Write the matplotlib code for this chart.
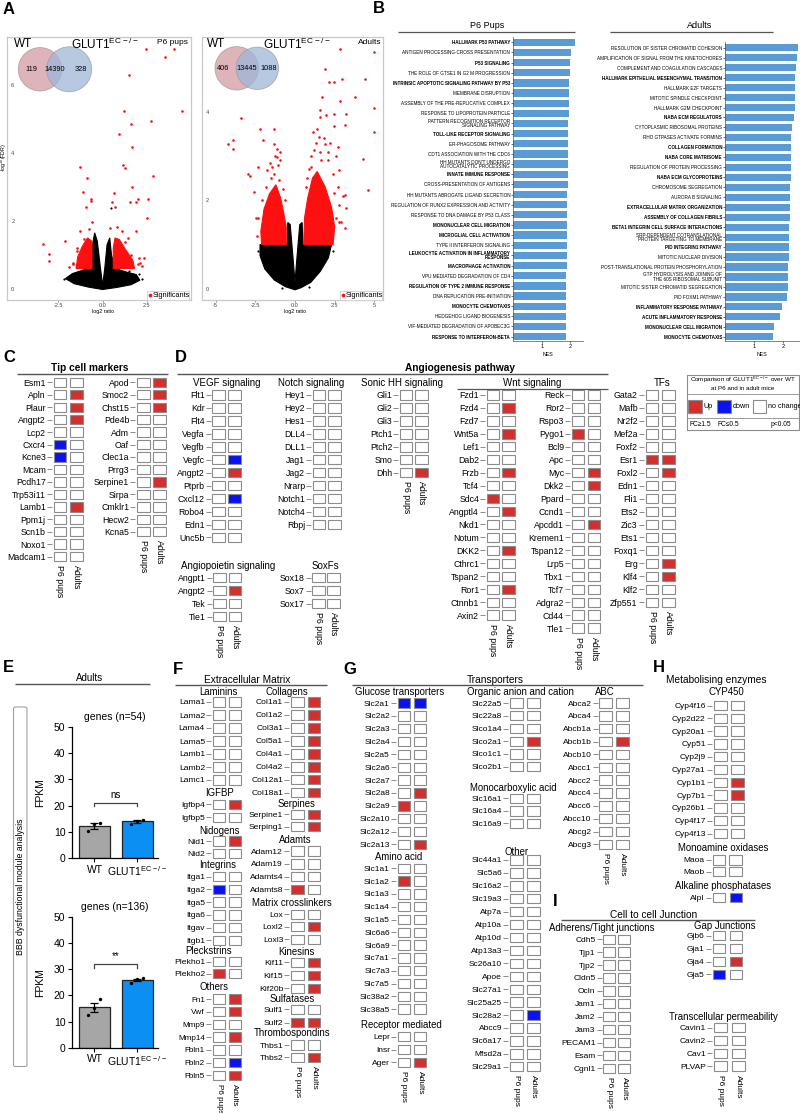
import numpy as np
import matplotlib.pyplot as plt
from matplotlib.patches import Rectangle, Circle, Polygon, FancyBboxPatch

plt.rcParams['font.family'] = ['Liberation Sans', 'DejaVu Sans']
plt.rcParams['mathtext.default'] = 'regular'

# ---------------- data ----------------
# A: venn counts (WT only, shared, KO only)
venn_p6 = [119, 14390, 328]
venn_ad = [406, 13445, 1088]

# A: volcano, dense cores read as outlines (log2 ratio, -log10 FDR)
p6_black = [(0, -0.02), (-0.8, 0.05), (-1.6, 0.15), (-2.1, 0.3), (-1.7, 0.45), (-1.1, 0.55),
            (-0.75, 0.8), (-0.6, 1.2), (-0.45, 1.65), (-0.3, 1.4), (-0.12, 0.6), (0, 0.1),
            (0.12, 0.6), (0.25, 1.3), (0.4, 1.5), (0.5, 1.0), (0.7, 0.6), (1.3, 0.5),
            (1.9, 0.42), (2.1, 0.25), (1.6, 0.12), (0.8, 0.04)]
p6_red_l = [(-0.6, 0.6), (-1.5, 0.6), (-1.4, 0.95), (-1.15, 1.25), (-0.85, 1.5), (-0.6, 1.4)]
p6_red_r = [(0.6, 0.6), (1.8, 0.6), (1.7, 0.85), (1.3, 1.15), (0.95, 1.45), (0.7, 1.5), (0.6, 1.2)]
p6_red_x = [2.43, 4.03, 3.52, 1.50, 4.48, 1.21, 2.71, 1.59, 0.94, 1.66, -1.28, 1.14, 1.29, 2.87,
            -0.90, 1.63, -1.09, 0.66, -0.68, -0.68, 0.51, 2.01, 1.86, 1.56, -0.95, 0.70, 2.54,
            2.48, -3.35, -3.02, -3.05, -2.13, -1.28, -0.62, 0.43, 2.33, 2.03, 1.88, 1.11,
            -1.7, -1.9, -1.45, 2.1, 2.2, -1.7, -1.45, -1.05, 1.6, 1.25, 2.0, 0.8, -0.75, 1.45]
p6_red_y = [7.06, 7.06, 6.84, 6.29, 5.25, 5.25, 4.96, 4.86, 4.56, 4.17, 3.58, 3.64, 3.56, 3.33,
            3.26, 2.99, 2.84, 2.81, 2.65, 2.58, 2.56, 2.65, 2.57, 2.55, 2.40, 2.42, 2.66,
            2.10, 1.33, 1.03, 0.82, 1.41, 1.69, 1.97, 1.78, 0.91, 0.91, 1.69, 1.70,
            0.75, 0.65, 1.2, 0.75, 0.68, 0.72, 1.1, 1.48, 1.0, 1.38, 0.72, 1.82, 1.75, 1.5]
p6_blk_x = [0.47, -1.9, -2.2, 2.2, 2.05, -1.3, 1.5]
p6_blk_y = [2.37, 0.35, 0.28, 0.3, 0.45, 0.5, 0.52]

ad_black = [(0, -0.02), (-0.6, 0.05), (-1.3, 0.2), (-1.9, 0.45), (-2.2, 0.75), (-2.2, 1.0),
            (-0.5, 1.0), (-0.45, 1.5), (-0.3, 1.45), (-0.1, 0.6), (0, 0.15), (0.1, 0.6),
            (0.3, 1.45), (0.45, 1.5), (0.5, 1.0), (2.3, 1.0), (2.1, 0.7), (1.6, 0.4),
            (1.0, 0.15), (0.4, 0.03)]
ad_red_l = [(-0.55, 1.0), (-2.1, 1.0), (-2.15, 1.3), (-1.95, 1.8), (-1.6, 2.15), (-1.2, 2.35),
            (-0.9, 2.05), (-0.7, 1.7), (-0.55, 1.4)]
ad_red_r = [(0.55, 1.0), (2.4, 1.0), (2.5, 1.4), (2.3, 1.85), (1.9, 2.3), (1.4, 2.65),
            (1.1, 2.5), (0.8, 2.05), (0.6, 1.6)]
ad_red_x = [-3.42, -3.92, -4.19, -3.92, -2.93, -2.83, -2.56, -2.20, -1.30, -2.0, -1.32, 2.86,
            5.0, 1.89, 4.39, 2.97, 2.15, 2.46, 3.75, 1.73, 2.83, 4.96, 1.56, 3.23, 2.45, 1.97,
            1.55, 3.12, 2.44, 4.96, 4.30, 2.75, 4.57, 3.12, 3.23, 3.12, 2.22, 2.46, 1.63, 1.21,
            2.05, 1.53, 0.99, 2.71, 1.87, -1.15, -1.57, -0.94, -1.78, -2.30, -2.09, -2.45, 2.8,
            -1.3, -1.1, -1.5, -1.25, -1.0, -1.8, -2.1, -2.3, -2.4, -1.45, -1.15, -0.95,
            1.0, 1.3, 1.6, 2.1, 2.4, 2.7, 2.8, 2.6, 1.8, 1.4, 2.2, 0.9, 1.15, 2.55, 3.0, 2.9,
            -0.75, -0.65, 0.7, 0.75]
ad_red_y = [3.85, 3.36, 3.27, 3.15, 2.60, 2.54, 2.18, 3.60, 3.60, 3.37, 3.27, 5.41,
            5.34, 4.96, 4.74, 4.73, 4.66, 4.66, 4.33, 4.33, 4.23, 4.08, 4.04, 3.94, 3.94, 3.93,
            3.88, 3.70, 3.67, 3.53, 2.94, 2.68, 2.23, 2.12, 1.83, 1.38, 1.21, 2.16, 2.90, 3.13,
            3.09, 3.43, 2.75, 3.20, 3.28, 2.98, 2.83, 3.09, 2.68, 2.75, 1.03, 1.6, 1.5,
            2.6, 2.8, 2.5, 3.0, 2.45, 2.3, 2.0, 1.6, 1.2, 2.75, 3.15, 2.9,
            3.0, 3.3, 3.1, 2.9, 2.6, 2.3, 1.9, 1.6, 3.4, 3.6, 3.3, 2.7, 3.55, 3.0, 2.1, 1.5,
            2.25, 2.0, 2.3, 2.5]
ad_blk_x = [-1.88, -2.3, 2.4, -0.8, 0.9]
ad_blk_y = [0.55, 0.85, 0.85, 0.02, 0.05]

# B: GSEA terms and NES
p6_terms = ["HALLMARK P53 PATHWAY", "ANTIGEN PROCESSING-CROSS PRESENTATION", "P53 SIGNALING",
            "THE ROLE OF GTSE1 IN G2 M PROGRESSION", "INTRINSIC APOPTOTIC SIGNALING PATHWAY BY P53",
            "MEMBRANE DISRUPTION", "ASSEMBLY OF THE PRE-REPLICATIVE COMPLEX",
            "RESPONSE TO LIPOPROTEIN PARTICLE", "PATTERN RECOGNITION RECEPTOR\nSIGNALING PATHWAY",
            "TOLL-LIKE RECEPTOR SIGNALING", "ER-PHAGOSOME PATHWAY", "CDT1 ASSOCIATION WITH THE CDC6",
            "HH MUTANTS DON'T UNDERGO\nAUTOCATALYTIC PROCESSING", "INNATE IMMUNE RESPONSE",
            "CROSS-PRESENTATION OF ANTIGENS", "HH MUTANTS ABROGATE LIGAND SECRETION",
            "REGULATION OF RUNX2 EXPRESSION AND ACTIVITY", "RESPONSE TO DNA DAMAGE BY P53 CLASS",
            "MONONUCLEAR CELL MIGRATION", "MICROGLIAL CELL ACTIVATION", "TYPE II INTERFERON SIGNALING",
            "LEUKOCYTE ACTIVATION IN INFLAMMATORY\nRESPONSE", "MACROPHAGE ACTIVATION",
            "VPU MEDIATED DEGRADATION OF CD4", "REGULATION OF TYPE 2 IMMUNE RESPONSE",
            "DNA REPLICATION PRE-INITIATION", "MONOCYTE CHEMOTAXIS", "HEDGEHOG LIGAND BIOGENESIS",
            "VIF-MEDIATED DEGRADATION OF APOBEC3G", "RESPONSE TO INTERFERON-BETA"]
p6_nes = [2.19, 2.04, 2.00, 1.99, 1.97, 1.96, 1.95, 1.95, 1.94, 1.94, 1.93, 1.93, 1.92, 1.92, 1.92,
          1.91, 1.91, 1.90, 1.89, 1.89, 1.88, 1.88, 1.88, 1.87, 1.87, 1.87, 1.86, 1.86, 1.85, 1.85]
p6_bold = [0, 2, 4, 9, 13, 18, 19, 21, 22, 24, 26, 29]

ad_terms = ["RESOLUTION OF SISTER CHROMATID COHESION", "AMPLIFICATION OF SIGNAL FROM THE KINETOCHORES",
            "COMPLEMENT AND COAGULATION CASCADES", "HALLMARK EPITHELIAL MESENCHYMAL TRANSITION",
            "HALLMARK E2F TARGETS", "MITOTIC SPINDLE CHECKPOINT", "HALLMARK G2M CHECKPOINT",
            "NABA ECM REGULATORS", "CYTOPLASMIC RIBOSOMAL PROTEINS", "RHO GTPASES ACTIVATE FORMINS",
            "COLLAGEN FORMATION", "NABA CORE MATRISOME", "REGULATION OF PROTEIN PROCESSING",
            "NABA ECM GLYCOPROTEINS", "CHROMOSOME SEGREGATION", "AURORA B SIGNALING",
            "EXTRACELLULAR MATRIX ORGANIZATION", "ASSEMBLY OF COLLAGEN FIBRILS",
            "BETA1 INTEGRIN CELL SURFACE INTERACTIONS",
            "SRP-DEPENDENT COTRANSLATIONAL\nPROTEIN TARGETING TO MEMBRANE", "PID INTEGRIN1 PATHWAY",
            "MITOTIC NUCLEAR DIVISION", "POST-TRANSLATIONAL PROTEIN PHOSPHORYLATION",
            "GTP HYDROLYSIS AND JOINING OF\nTHE 60S RIBOSOMAL SUBUNIT",
            "MITOTIC SISTER CHROMATID SEGREGATION", "PID FOXM1 PATHWAY",
            "INFLAMMATORY RESPONSE PATHWAY", "ACUTE INFLAMMATORY RESPONSE",
            "MONONUCLEAR CELL MIGRATION", "MONOCYTE CHEMOTAXIS"]
ad_nes = [2.52, 2.47, 2.43, 2.41, 2.41, 2.40, 2.39, 2.38, 2.29, 2.28, 2.28, 2.28, 2.26, 2.25, 2.24,
          2.23, 2.22, 2.22, 2.21, 2.20, 2.19, 2.19, 2.18, 2.17, 2.16, 2.14, 1.95, 1.89, 1.68, 1.65]
ad_bold = [3, 7, 10, 11, 13, 16, 17, 18, 20, 26, 27, 28, 29]

# gene calls: (gene, P6 pups, Adults) 1 = up, -1 = down, 0 = no change
tip_a = [("Esm1", 0, 0), ("Apln", 0, 1), ("Plaur", 0, 1), ("Angpt2", 0, 1), ("Lcp2", 0, 0),
         ("Cxcr4", -1, 0), ("Kcne3", -1, 0), ("Mcam", 0, 0), ("Pcdh17", 0, 0), ("Trp53i11", 0, 0),
         ("Lamb1", 0, 1), ("Ppm1j", 0, 0), ("Scn1b", 0, 0), ("Noxo1", 0, 0), ("Madcam1", 0, 0)]
tip_b = [("Apod", 0, 1), ("Smoc2", 0, 1), ("Chst15", 0, 1), ("Pde4b", 0, 0), ("Adm", 0, 0),
         ("Oaf", 0, 0), ("Clec1a", 0, 0), ("Prrg3", 0, 0), ("Serpine1", 0, 1), ("Sirpa", 0, 0),
         ("Cmklr1", 0, 0), ("Hecw2", 0, 0), ("Kcna5", 0, 0)]
vegf = [("Flt1", 0, 0), ("Kdr", 0, 0), ("Flt4", 0, 0), ("Vegfa", 0, 0), ("Vegfb", 0, 0),
        ("Vegfc", 0, -1), ("Angpt2", 0, 1), ("Ptprb", 0, 0), ("Cxcl12", 0, -1), ("Robo4", 0, 0),
        ("Edn1", 0, 0), ("Unc5b", 0, 0)]
notch = [(g, 0, 0) for g in ["Hey1", "Hey2", "Hes1", "DLL4", "DLL1", "Jag1", "Jag2", "Nrarp",
                              "Notch1", "Notch4", "Rbpj"]]
shh = [("Gli1", 0, 0), ("Gli2", 0, 0), ("Gli3", 0, 0), ("Ptch1", 0, 0), ("Ptch2", 0, 0),
       ("Smo", 0, 0), ("Dhh", 0, 1)]
angpt = [("Angpt1", 0, 0), ("Angpt2", 0, 1), ("Tek", 0, 0), ("Tie1", 0, 0)]
soxf = [("Sox18", 0, 0), ("Sox7", 0, 0), ("Sox17", 0, 0)]
wnt_a = [("Fzd1", 0, 0), ("Fzd4", 0, 1), ("Fzd7", 0, 0), ("Wnt5a", 0, 1), ("Lef1", 0, 0),
         ("Dab2", 0, 0), ("Frzb", 0, 1), ("Tcf4", 0, 0), ("Sdc4", 1, 0), ("Angptl4", 0, 1),
         ("Nkd1", 0, 0), ("Notum", 0, 0), ("DKK2", 0, 1), ("Cthrc1", 0, 0), ("Tspan2", 0, 0),
         ("Ror1", 0, 1), ("Ctnnb1", 0, 0), ("Axin2", 0, 0)]
wnt_b = [("Reck", 0, 0), ("Ror2", 0, 0), ("Rspo3", 0, 0), ("Pygo1", 1, 0), ("Bcl9", 0, 0),
         ("Apc", 0, 0), ("Myc", 0, 1), ("Dkk2", 0, 1), ("Ppard", 0, 0), ("Ccnd1", 0, 0),
         ("Apcdd1", 0, 1), ("Kremen1", 0, 0), ("Tspan12", 0, 0), ("Lrp5", 0, 0), ("Tbx1", 0, 0),
         ("Tcf7", 0, 0), ("Adgra2", 0, 0), ("Cd44", 0, 0), ("Tle1", 0, 0)]
tfs = [("Gata2", 0, 0), ("Mafb", 0, 0), ("Nr2f2", 0, 0), ("Mef2a", 0, 0), ("Foxf2", 0, 0),
       ("Esr1", 1, 1), ("Foxl2", 0, 1), ("Edn1", 0, 0), ("Fli1", 0, 0), ("Ets2", 0, 0),
       ("Zic3", 0, 0), ("Ets1", 0, 0), ("Foxq1", 0, 0), ("Erg", 0, 1), ("Klf4", 0, 1),
       ("Klf2", 0, 0), ("Zfp551", 0, 0)]

laminins = [(g, 0, 0) for g in ["Lama1", "Lama2", "Lama4", "Lama5", "Lamb1", "Lamb2", "Lamc1"]]
igfbp = [("Igfbp4", 0, 1), ("Igfbp5", 0, 0)]
nidogens = [("Nid1", 0, 1), ("Nid2", 0, 0)]
integrins = [("Itga1", 0, 0), ("Itga2", -1, 0), ("Itga5", 0, 0), ("Itga6", 0, 0), ("Itgav", 0, 0),
             ("Itgb1", 0, 0)]
pleckstrins = [("Plekho1", 0, 0), ("Plekho2", 1, 0)]
others = [("Fn1", 0, 1), ("Vwf", 0, 1), ("Mmp9", 0, 0), ("Mmp14", 0, 1), ("Fbln1", 0, 0),
          ("Fbln2", 0, -1), ("Fbln5", 0, 1)]
collagens = [(g, 0, 1) for g in ["Col1a1", "Col1a2", "Col3a1", "Col5a1", "Col4a1", "Col4a2",
                                  "Col12a1", "Col18a1"]]
serpines = [("Serpine1", 0, 1), ("Serping1", 0, 1)]
adamts = [("Adam12", 0, 0), ("Adam19", 0, 0), ("Adamts4", 0, 0), ("Adamts8", 1, 0)]
crosslinkers = [("Lox", 0, 0), ("Loxl2", 0, 1), ("Loxl3", 0, 0)]
kinesins = [("Kif11", 0, 1), ("Kif15", 0, 1), ("Kif20b", 0, 1)]
sulfatases = [("Sulf1", 0, 0), ("Sulf2", 1, 1)]
thbs = [("Thbs1", 0, 0), ("Thbs2", 0, 1)]

glucose = [("Slc2a1", -1, -1), ("Slc2a2", 0, 0), ("Slc2a3", 0, 0), ("Slc2a4", 0, 0),
           ("Slc2a5", 0, 0), ("Slc2a6", 0, 0), ("Slc2a7", 0, 0), ("Slc2a8", 0, 1),
           ("Slc2a9", 1, 0), ("Slc2a10", 0, 0), ("Slc2a12", 0, 0), ("Slc2a13", 0, 1)]
amino = [("Slc1a1", 0, 0), ("Slc1a2", 1, 0)] + [(g, 0, 0) for g in
         ["Slc1a3", "Slc1a4", "Slc1a5", "Slc6a6", "Slc6a9", "Slc7a1", "Slc7a3", "Slc7a5",
          "Slc38a2", "Slc38a5"]]
receptor = [("Lepr", 0, 0), ("Insr", 0, 0), ("Ager", 0, 1)]
organic = [("Slc22a5", 0, 0), ("Slc22a8", 0, 0), ("Slco1a4", 0, 0), ("Slco2a1", 0, 1),
           ("Slco1c1", 0, 0), ("Slco2b1", 0, 0)]
monocarb = [("Slc16a1", 0, 0), ("Slc16a4", 0, 0), ("Slc16a9", 0, 0)]
other_tr = [(g, 0, 0) for g in ["Slc44a1", "Slc5a6", "Slc16a2", "Slc19a3", "Atp7a", "Atp10a",
                                 "Atp10d", "Atp13a3", "Sc26a10", "Apoe", "Slc27a1", "Slc25a25"]] + \
           [("Slc28a2", 0, -1), ("Abcc9", 0, 0), ("Slc6a17", 0, 0), ("Mfsd2a", 0, 0),
            ("Slc29a1", 0, 0)]
abc = [("Abca2", 0, 0), ("Abca4", 0, 0), ("Abcb1a", 0, 0), ("Abcb1b", 0, 1)] + \
      [(g, 0, 0) for g in ["Abcb10", "Abcc1", "Abcc2", "Abcc4", "Abcc6", "Abcc10", "Abcg2",
                           "Abcg3"]]

cyp = [(g, 0, 0) for g in ["Cyp4f16", "Cyp2d22", "Cyp20a1", "Cyp51", "Cyp2j9", "Cyp27a1"]] + \
      [("Cyp1b1", 0, 1), ("Cyp7b1", 0, 1), ("Cyp26b1", 0, 0), ("Cyp4f17", 0, 0), ("Cyp4f13", 0, 0)]
mao = [("Maoa", 0, 0), ("Maob", 0, 0)]
alpl = [("Alpl", 0, -1)]
adherens = [(g, 0, 0) for g in ["Cdh5", "Tjp1", "Tjp2", "Cldn5", "Ocln", "Jam1", "Jam2", "Jam3",
                                 "PECAM1", "Esam", "Cgnl1"]]
gap = [("Gjb6", 0, 0), ("Gja1", 0, 0), ("Gja4", 0, 1), ("Gja5", -1, 0)]
transcell = [(g, 0, 0) for g in ["Cavin1", "Cavin2", "Cav1", "PLVAP"]]

# E: FPKM per mouse
e_groups = ["WT", "GLUT1$^{EC-/-}$"]
bbb54_wt = [10.3, 13.2, 13.5]
bbb54_ko = [13.1, 14.3, 14.6]
bbb136_wt = [12.4, 15.3, 18.4]
bbb136_ko = [24.8, 26.1, 26.5]

# ---------------- figure ----------------
W, H = 800, 1113
fig = plt.figure(figsize=(8, 11.13), dpi=100)
RED, BLUE = '#d42f2f', '#0a12f2'
FILL = {0: 'white', 1: RED, -1: BLUE}
EDGE = '#8c8c8c'


def px_axes(x0, y0, x1, y1, **kw):
    return fig.add_axes([x0 / W, 1 - y1 / H, (x1 - x0) / W, (y1 - y0) / H], **kw)


def grid(rows, xc, y0, step=12.9, cs=16, xl=False, fs=6.3):
    n = len(rows)
    ax = px_axes(xc - cs / 2, y0 - step / 2, xc + cs * 1.5, y0 + step * (n - 0.5))
    ax.set_xlim(-0.5, 1.5)
    ax.set_ylim(n - 0.5, -0.5)
    bw = 12.8 / cs
    bh = 9.4 / step
    for i, (g, a, b) in enumerate(rows):
        for j, v in enumerate((a, b)):
            ax.add_patch(Rectangle((j - bw / 2, i - bh / 2), bw, bh, fc=FILL[v], ec=EDGE, lw=0.8))
    for s in ax.spines.values():
        s.set_visible(False)
    ax.set_yticks(range(n))
    ax.set_yticklabels([r[0] for r in rows])
    ax.tick_params(axis='y', length=3.4, width=0.6, color='#777777', pad=1, labelsize=fs)
    if xl:
        ax.set_xticks([0, 1])
        ax.set_xticklabels(['P6 pups', 'Adults'], rotation=270, fontsize=fs)
        ax.tick_params(axis='x', length=0, pad=1.5)
    else:
        ax.set_xticks([])
    ax.patch.set_visible(False)
    return ax


# ---------- A: volcano plots ----------
def volcano(box, xlim, ylim, xt, xtl, yt, black, reds, rx, ry, bx, by):
    ax = px_axes(*box)
    ax.add_patch(Polygon(black, closed=True, fc='black', ec='black', lw=0.8))
    for p in reds:
        ax.add_patch(Polygon(p, closed=True, fc='#ff1010', ec='#ff1010', lw=0.8))
    ax.scatter(bx, by, s=2.5, c='black', lw=0)
    ax.scatter(rx, ry, s=3.5, c='#ff1010', lw=0)
    ax.set_xlim(*xlim)
    ax.set_ylim(*ylim)
    ax.set_xticks(xt)
    ax.set_xticklabels(xtl)
    ax.set_yticks(yt)
    ax.tick_params(axis='x', length=1.5, width=0.4, labelsize=4, pad=1, colors='#444444')
    ax.tick_params(axis='y', length=0, labelsize=4, pad=-5, colors='#444444')
    for s in ax.spines.values():
        s.set_color('#c8c8c8')
        s.set_linewidth(0.9)
    return ax


volcano((7.3, 36.7, 190.7, 300), (-5.38, 4.97), (-0.33, 7.43), [-2.5, 0, 2.5],
        ['-2.5', '0.0', '2.5'], [0, 2, 4, 6], p6_black, [p6_red_l, p6_red_r],
        p6_red_x, p6_red_y, p6_blk_x, p6_blk_y)
volcano((201.7, 36.7, 382.7, 300), (-5.87, 5.52), (-0.25, 5.69), [-5, -2.5, 0, 2.5, 5],
        ['-5', '-2.5', '0.0', '2.5', '5'], [0, 2, 4], ad_black, [ad_red_l, ad_red_r],
        ad_red_x, ad_red_y, ad_blk_x, ad_blk_y)


# ---------- B: NES bars ----------
def nes_bars(box, terms, nes, bold, xmax, yl):
    ax = px_axes(*box)
    y = np.arange(len(terms))
    ax.barh(y, nes, height=0.72, color='#5b9bd5')
    ax.set_ylim(*yl)
    ax.set_xlim(0, xmax)
    ax.set_yticks(y)
    ax.set_yticklabels(terms, fontsize=3.3, linespacing=0.85)
    for i, t in enumerate(ax.get_yticklabels()):
        if i in bold:
            t.set_fontweight('bold')
    ax.set_xticks([1, 2])
    ax.tick_params(axis='x', length=1.5, width=0.4, labelsize=4, pad=1)
    ax.tick_params(axis='y', length=1.5, width=0.4, pad=0.8)
    ax.set_xlabel('NES', fontsize=3.8, labelpad=1.5)
    for s in ['top', 'right']:
        ax.spines[s].set_visible(False)
    for s in ['left', 'bottom']:
        ax.spines[s].set_linewidth(0.5)
        ax.spines[s].set_color('#555555')


nes_bars((513.4, 37, 582.7, 341), p6_terms, p6_nes, p6_bold, 2.45, (29.43, -0.52))
nes_bars((725.3, 42, 799.2, 341), ad_terms, ad_nes, ad_bold, 2.55, (29.42, -0.57))


# ---------- E: FPKM bars ----------
def fpkm(box, title, wt, ko, star, by):
    ax = px_axes(*box)
    vals = [wt, ko]
    means = [np.mean(v) for v in vals]
    sems = [np.std(v, ddof=1) / np.sqrt(len(v)) for v in vals]
    ax.bar([0, 1], means, width=0.72, color=['#a6a6a6', '#0b8ff2'], edgecolor='#222222', lw=0.9)
    ax.errorbar([0, 1], means, yerr=sems, fmt='none', ecolor='black', elinewidth=0.9,
                capsize=3, capthick=0.9)
    jit = [-0.14, 0.0, 0.14]
    for i, v in enumerate(vals):
        ax.scatter([i + j for j in jit], v, s=6, c='black', zorder=3, lw=0)
    ax.plot([0, 0, 1, 1], [by - 1.3, by, by, by - 1.3], color='#444444', lw=0.9)
    ax.text(0.5, by + 1.2, star, ha='center', va='bottom', fontsize=7)
    ax.set_ylim(0, 50)
    ax.set_xlim(-0.53, 1.48)
    ax.set_yticks([0, 10, 20, 30, 40, 50])
    ax.set_xticks([0, 1])
    ax.set_xticklabels(e_groups)
    ax.tick_params(labelsize=7.5, length=3, width=0.8, pad=1.5)
    ax.set_ylabel('FPKM', fontsize=7.5, labelpad=6)
    ax.set_title(title, fontsize=7.5, pad=5)
    for s in ['top', 'right']:
        ax.spines[s].set_visible(False)
    for s in ['left', 'bottom']:
        ax.spines[s].set_linewidth(0.9)
    ax.patch.set_visible(False)


fpkm((71.7, 726.7, 158, 858.3), 'genes (n=54)', bbb54_wt, bbb54_ko, 'ns', 21)
fpkm((71.7, 916.7, 158, 1047.7), 'genes (n=136)', bbb136_wt, bbb136_ko, '**', 31.8)

# ---------- C, D, F, G, H, I: gene grids ----------
grid(tip_a, 60, 382.3, step=12.45, cs=16.5, xl=True)
grid(tip_b, 143.3, 382.3, step=12.45, cs=16.0, xl=True)
grid(vegf, 218.5, 395, step=12.95, cs=15.7)
grid(notch, 319, 395, step=12.95, cs=15.5)
grid(shh, 406, 395, step=12.95, cs=15.2, xl=True)
grid(angpt, 219.5, 577.7, step=12.95, cs=15.5, xl=True)
grid(soxf, 318.5, 577.7, step=12.95, cs=15.2, xl=True)
grid(wnt_a, 493, 395, step=12.95, cs=15.7, xl=True)
grid(wnt_b, 578, 395, step=12.95, cs=16.0, xl=True)
grid(tfs, 652, 395, step=12.95, cs=16.5, xl=True)

grid(laminins, 219, 702, step=13.0, cs=15.9, fs=6.1)
grid(igfbp, 219, 804.3, step=13.0, cs=15.9, fs=6.1)
grid(nidogens, 219, 841, step=12.3, cs=15.9, fs=6.1)
grid(integrins, 219, 876.7, step=12.7, cs=15.9, fs=6.1)
grid(pleckstrins, 219, 961.7, step=12.0, cs=15.9, fs=6.1)
grid(others, 219, 999, step=12.7, cs=15.9, xl=True, fs=5.9)
grid(collagens, 297.5, 702, step=12.96, cs=16.5, fs=6.1)
grid(serpines, 297.5, 814.3, step=12.4, cs=16.5, fs=6.1)
grid(adamts, 297.5, 851, step=12.8, cs=16.5, fs=6.1)
grid(crosslinkers, 297.5, 914.3, step=12.5, cs=16.5, fs=6.1)
grid(kinesins, 297.5, 962.3, step=13.0, cs=16.5, fs=6.1)
grid(sulfatases, 297.5, 1009.3, step=13.4, cs=16.5, fs=6.1)
grid(thbs, 297.5, 1045, step=12.3, cs=16.5, xl=True, fs=6.1)

grid(glucose, 404, 703, step=12.85, cs=16.0, fs=6.0)
grid(amino, 404, 868.3, step=12.8, cs=16.0, fs=6.0)
grid(receptor, 404, 1036.7, step=12.8, cs=16.0, xl=True, fs=6.0)
grid(organic, 516.7, 703, step=12.75, cs=16.8, fs=6.0)
grid(monocarb, 516.7, 798.3, step=12.5, cs=16.8, fs=6.0)
grid(other_tr, 516.7, 860, step=12.92, cs=16.8, xl=True, fs=6.0)
grid(abc, 605.8, 703, step=12.85, cs=16.4, xl=True, fs=6.0)

grid(cyp, 720.3, 705.5, step=12.8, cs=17.0, fs=6.0)
grid(mao, 719, 860, step=11.7, cs=16.5, fs=6.0)
grid(alpl, 719, 897.7, step=12.8, cs=17.0, fs=6.0)
grid(adherens, 609, 939.3, step=12.9, cs=15.0, xl=True, fs=6.0)
grid(gap, 719, 935.7, step=12.9, cs=17.0, fs=6.0)
grid(transcell, 720.7, 1027.7, step=12.8, cs=17.5, xl=True, fs=6.0)

# ---------- overlay: letters, titles, rules, venn, legend ----------
ov = px_axes(0, 0, W, H, zorder=10)
ov.set_xlim(0, W)
ov.set_ylim(H, 0)
ov.axis('off')


def txt(x, y, s, fs=7, **kw):
    ov.text(x, y, s, fontsize=fs, ha=kw.pop('ha', 'center'), va=kw.pop('va', 'center'), **kw)


def rule(x0, x1, y, lw=1.0, c='#555555'):
    ov.plot([x0, x1], [y, y], color=c, lw=lw, solid_capstyle='butt')


for s, x, y in [('A', 3, 9), ('B', 373, 8.5), ('C', 3, 358), ('D', 175, 358), ('E', 3, 667),
                ('F', 173, 670), ('G', 343, 670), ('H', 653, 667), ('I', 553, 901.7)]:
    txt(x, y, s, fs=12, ha='left', fontweight='bold')

# A annotations
for cx, cy, r, fc in [(40, 69.3, 21.7, '#d49aa2'), (69.2, 69.3, 22.5, '#9fb6d8'),
                      (236.7, 68.3, 21.7, '#d49aa2'), (257.3, 68.3, 21.2, '#9fb6d8')]:
    ov.add_patch(Circle((cx, cy), r, fc=fc, ec='#9a9a9a', lw=0.6, alpha=0.75))
for (x, v) in zip([31.7, 55, 80.5], venn_p6):
    txt(x, 69.3, str(v), fs=5.3)
for (x, v) in zip([222.7, 246.7, 268.5], venn_ad):
    txt(x, 68.3, str(v), fs=5.3)
txt(14, 44, 'WT', fs=8.5, ha='left')
txt(71, 44, 'GLUT1$^{EC-/-}$', fs=8.5, ha='left')
txt(188, 43, 'P6 pups', fs=6, ha='right')
txt(207, 44, 'WT', fs=8.5, ha='left')
txt(263, 44, 'GLUT1$^{EC-/-}$', fs=8.5, ha='left')
txt(381, 43, 'Adults', fs=6, ha='right')
txt(3.5, 157, '-log$^{10}$(FDR)', fs=3.8, rotation=90)
txt(102.7, 311.5, 'log2 ratio', fs=3.8)
txt(295, 311.5, 'log2 ratio', fs=3.8)
for x0, x1 in [(146.5, 188.5), (339.5, 381.5)]:
    ov.add_patch(Rectangle((x0, 290.5), x1 - x0, 9.3, fc='white', ec='#cfcfcf', lw=0.6))
    ov.scatter([x0 + 3.8], [295.2], s=7, c='#ff1010', lw=0)
    txt(x0 + 6.5, 295.3, 'Significants', fs=5.3, ha='left')

# B titles
txt(486.7, 26, 'P6 Pups', fs=6.5)
rule(398, 575, 32.3, lw=0.9)
txt(700, 25, 'Adults', fs=6.5)
rule(610, 773, 32.3, lw=0.9)

# C / D titles
txt(90, 368.3, 'Tip cell markers', fs=7.3, fontweight='bold')
rule(16.7, 168, 374.3)
txt(460, 368.3, 'Angiogenesis pathway', fs=7.3, fontweight='bold')
rule(176.7, 608.3, 374.3)
for s, x, y in [('VEGF signaling', 226.7, 382.7), ('Notch signaling', 311, 382.7),
                ('Sonic HH signaling', 401.7, 382.7), ('Wnt signaling', 532, 382.7),
                ('TFs', 661.7, 382.7), ('Angiopoietin signaling', 228.3, 565.7),
                ('SoxFs', 325, 565.7)]:
    txt(x, y, s, fs=7)
rule(456.7, 608.3, 388.5, lw=0.9)

# D legend
ov.add_patch(Rectangle((686.7, 374.5), 112, 55, fc='white', ec='#8c8c8c', lw=0.8))
txt(743, 380.3, 'Comparison of GLUT1$^{EC-/-}$ over WT', fs=4.5)
txt(743, 388.6, 'at P6 and in adult mice', fs=4.5)
rule(686.7, 798.7, 394.3, lw=0.6, c='#8c8c8c')
rule(686.7, 798.7, 417.5, lw=0.6, c='#8c8c8c')
for x0, fc, lab in [(688.3, RED, 'Up'), (717.3, BLUE, 'down'), (752.7, 'white', 'no change')]:
    ov.add_patch(Rectangle((x0, 399.5), 13.3, 13.5, fc=fc, ec=EDGE, lw=0.8))
    txt(x0 + 15.5, 406.3, lab, fs=5.2, ha='left')
txt(689, 424, 'FC≥1.5', fs=4.8, ha='left')
txt(718, 424, 'FC≤0.5', fs=4.8, ha='left')
txt(781, 424, 'p<0.05', fs=4.8)

# E frame
txt(90, 678.3, 'Adults', fs=7)
rule(15, 150, 684.3)
ov.add_patch(FancyBboxPatch((13.5, 707), 13.5, 359.5, boxstyle='round,pad=0,rounding_size=2',
                            fc='white', ec='#a0a0a0', lw=0.8))
txt(20.3, 886.7, 'BBB dysfunctional module analysis', fs=6.3, rotation=90)

# F titles
txt(246.7, 680, 'Extracellular Matrix', fs=7.3)
rule(175, 327, 685)
for s, x, y in [('Laminins', 218.3, 691.7), ('IGFBP', 220, 793.3), ('Nidogens', 220, 830.5),
                ('Integrins', 218, 865), ('Pleckstrins', 209, 951.5), ('Others', 214, 986.7),
                ('Collagens', 286.7, 691.7), ('Serpines', 296.7, 804), ('Adamts', 295.7, 840.3),
                ('Matrix crosslinkers', 291.7, 902.7), ('Kinesins', 296.7, 951.7),
                ('Sulfatases', 291.7, 999.3), ('Thrombospondins', 291.7, 1033.3)]:
    txt(x, y, s, fs=6.9)

# G titles
txt(495, 680, 'Transporters', fs=7.3)
rule(351.7, 643.3, 685.3)
for s, x, y in [('Glucose transporters', 400, 691.7), ('Amino acid', 399, 857.3),
                ('Receptor mediated', 401, 1025), ('Organic anion and cation', 520, 691.7),
                ('Monocarboxylic acid', 513.3, 787.7), ('Other', 516.7, 851.7),
                ('ABC', 605, 691.7)]:
    txt(x, y, s, fs=6.9)

# H titles
txt(716.7, 680, 'Metabolising enzymes', fs=7.3)
for s, x, y in [('CYP450', 726.7, 691.7), ('Monoamine oxidases', 723.3, 848.3),
                ('Alkaline phosphatases', 723.3, 886)]:
    txt(x, y, s, fs=6.9)

# I titles
txt(654, 914.8, 'Cell to cell Junction', fs=7.3)
rule(561, 755, 920.3)
for s, x, y in [('Adherens/Tight junctions', 602, 927.7), ('Gap Junctions', 725, 925.7),
                ('Transcellular permeability', 723.3, 1016.7)]:
    txt(x, y, s, fs=6.9)

fig.savefig('out.png', dpi=100)
